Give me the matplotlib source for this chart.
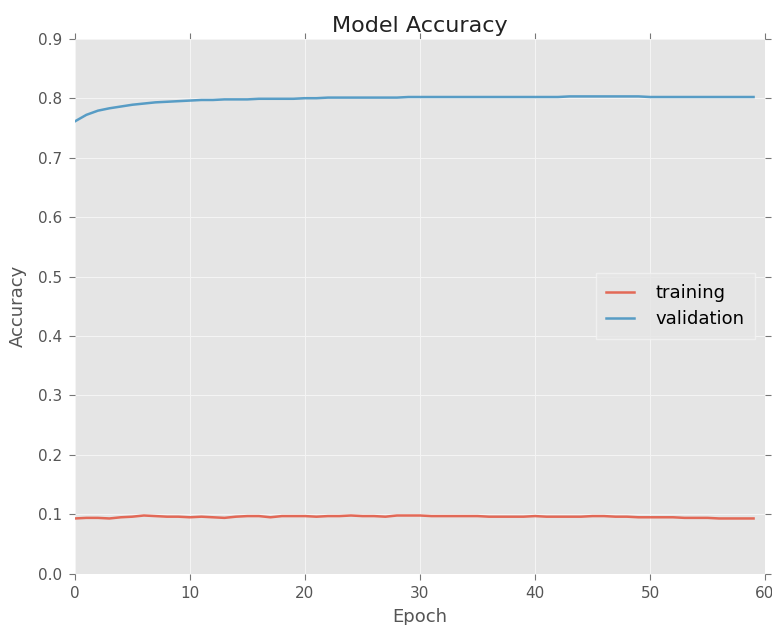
import matplotlib
matplotlib.use("Agg")
import matplotlib.pyplot as plt

epochs = list(range(60))
training = [0.093, 0.094, 0.094, 0.093, 0.095, 0.096, 0.098, 0.097, 0.096, 0.096,
            0.095, 0.096, 0.095, 0.094, 0.096, 0.097, 0.097, 0.095, 0.097, 0.097,
            0.097, 0.096, 0.097, 0.097, 0.098, 0.097, 0.097, 0.096, 0.098, 0.098,
            0.098, 0.097, 0.097, 0.097, 0.097, 0.097, 0.096, 0.096, 0.096, 0.096,
            0.097, 0.096, 0.096, 0.096, 0.096, 0.097, 0.097, 0.096, 0.096, 0.095,
            0.095, 0.095, 0.095, 0.094, 0.094, 0.094, 0.093, 0.093, 0.093, 0.093]
validation = [0.761, 0.772, 0.779, 0.783, 0.786, 0.789, 0.791, 0.793, 0.794, 0.795,
              0.796, 0.797, 0.797, 0.798, 0.798, 0.798, 0.799, 0.799, 0.799, 0.799,
              0.800, 0.800, 0.801, 0.801, 0.801, 0.801, 0.801, 0.801, 0.801, 0.802,
              0.802, 0.802, 0.802, 0.802, 0.802, 0.802, 0.802, 0.802, 0.802, 0.802,
              0.802, 0.802, 0.802, 0.803, 0.803, 0.803, 0.803, 0.803, 0.803, 0.803,
              0.802, 0.802, 0.802, 0.802, 0.802, 0.802, 0.802, 0.802, 0.802, 0.802]
series_labels = ["training", "validation"]
xticks = [0, 10, 20, 30, 40, 50, 60]
yticks = [0.0, 0.1, 0.2, 0.3, 0.4, 0.5, 0.6, 0.7, 0.8, 0.9]

fig = plt.figure(figsize=(7.72, 6.25), dpi=100, facecolor="white")
ax = fig.add_axes([0.097, 0.082, 0.894, 0.856])
ax.set_facecolor("#E5E5E5")
for s in ax.spines.values():
    s.set_visible(False)
ax.grid(True, color="#F4F4F4", linewidth=0.8)
ax.set_axisbelow(True)

ax.plot(epochs, training, color="#E24A33", linewidth=1.8, alpha=0.8, label=series_labels[0])
ax.plot(epochs, validation, color="#348ABD", linewidth=1.8, alpha=0.8, label=series_labels[1])

ax.set_xlim(0, 60)
ax.set_ylim(0.0, 0.9)
ax.set_xticks(xticks)
ax.set_yticks(yticks)
ax.set_yticklabels([f"{v:.1f}" for v in yticks])
ax.tick_params(axis="both", direction="out", length=4, width=0.8, color="#777777",
               labelcolor="#555555", labelsize=11, top=True, right=True, pad=5)

ax.set_title("Model Accuracy", fontsize=16, color="#222222", pad=5)
ax.set_xlabel("Epoch", fontsize=13, color="#555555", labelpad=5)
ax.set_ylabel("Accuracy", fontsize=13, color="#555555", labelpad=8)

leg = ax.legend(loc="center right", bbox_to_anchor=(0.9855, 0.5), fontsize=13,
                frameon=True, fancybox=False, handlelength=1.55, borderpad=0.6,
                handletextpad=1.15, labelspacing=0.45, borderaxespad=0.0)
leg.get_frame().set_facecolor("#E5E5E5")
leg.get_frame().set_edgecolor("#F4F4F4")

fig.savefig("out.png", dpi=100, facecolor="white")
